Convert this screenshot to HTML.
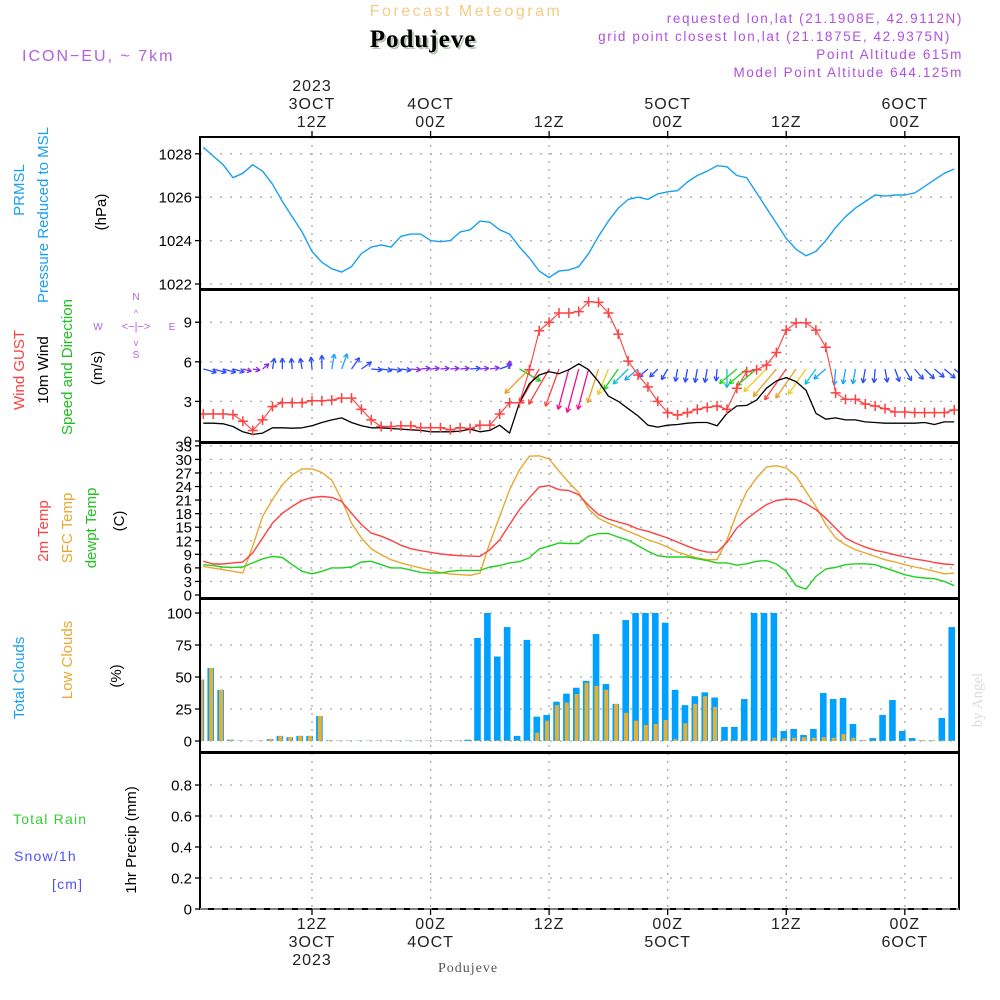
<!DOCTYPE html>
<html><head><meta charset="utf-8">
<style>
html,body{margin:0;padding:0;background:#fff;}
svg{display:block;font-family:"Liberation Sans",sans-serif;}
</style></head>
<body>
<svg id="chart" width="1000" height="1000" viewBox="0 0 1000 1000" xmlns="http://www.w3.org/2000/svg">
<rect x="0" y="0" width="1000" height="1000" fill="#fff"/>
<g id="grid"></g>
<g id="marks"></g>
<g id="axes"></g>

<text x="466" y="16" text-anchor="middle" font-size="16" fill="#f5cc85" letter-spacing="2.5">Forecast Meteogram</text>
<text x="425" y="49" text-anchor="middle" font-family="'Liberation Serif',serif" font-weight="bold" font-size="25" fill="#b8c8b8" letter-spacing="1">Podujeve</text>
<text x="423" y="47" text-anchor="middle" font-family="'Liberation Serif',serif" font-weight="bold" font-size="25" fill="#000" letter-spacing="1">Podujeve</text>
<text x="22" y="61" font-size="16" fill="#b060e0" letter-spacing="2">ICON−EU, ~ 7km</text>
<g font-size="13.5" fill="#b050e0" text-anchor="end" letter-spacing="1.6">
<text x="963" y="23">requested lon,lat (21.1908E, 42.9112N)</text>
<text x="951" y="41">grid point closest lon,lat (21.1875E, 42.9375N)</text>
<text x="963" y="59">Point Altitude 615m</text>
<text x="963" y="77">Model Point Altitude 644.125m</text>
</g>

<g font-size="15">
<text transform="translate(24,190) rotate(-90)" text-anchor="middle" fill="#1aa0f0">PRMSL</text>
<text transform="translate(48,215) rotate(-90)" text-anchor="middle" fill="#1aa0f0">Pressure Reduced to MSL</text>
<text transform="translate(106,212) rotate(-90)" text-anchor="middle" fill="#000">(hPa)</text>
<text transform="translate(24,370) rotate(-90)" text-anchor="middle" fill="#ff4040">Wind GUST</text>
<text transform="translate(48,370) rotate(-90)" text-anchor="middle" fill="#000">10m Wind</text>
<text transform="translate(72,367) rotate(-90)" text-anchor="middle" fill="#20c020">Speed and Direction</text>
<text transform="translate(102,368) rotate(-90)" text-anchor="middle" fill="#000">(m/s)</text>
<text transform="translate(48,531) rotate(-90)" text-anchor="middle" fill="#ff4040">2m Temp</text>
<text transform="translate(72,528) rotate(-90)" text-anchor="middle" fill="#e8a830">SFC Temp</text>
<text transform="translate(96,528) rotate(-90)" text-anchor="middle" fill="#20c020">dewpt Temp</text>
<text transform="translate(124,521) rotate(-90)" text-anchor="middle" fill="#000">(C)</text>
<text transform="translate(24,678) rotate(-90)" text-anchor="middle" fill="#1aa0f0">Total Clouds</text>
<text transform="translate(72,660) rotate(-90)" text-anchor="middle" fill="#e8a830">Low Clouds</text>
<text transform="translate(121,676) rotate(-90)" text-anchor="middle" fill="#000">(%)</text>
<text transform="translate(136,840) rotate(-90)" text-anchor="middle" fill="#000">1hr Precip (mm)</text>
</g>
<g font-size="14" letter-spacing="1.2">
<text x="13" y="824" fill="#30d030">Total  Rain</text>
<text x="14" y="861" fill="#5050ff">Snow/1h</text>
<text x="52" y="889" fill="#5050ff">[cm]</text>
</g>
<g font-size="10" fill="#b060e0" text-anchor="middle">
<text x="136" y="300">N</text><text x="98" y="330">W</text><text x="172" y="330">E</text><text x="136" y="358">S</text>
<text x="136" y="330" font-size="11">&lt;−|−&gt;</text>
<text x="136" y="316" font-size="9">^</text><text x="136" y="346" font-size="9">v</text>
</g>
<text transform="translate(982,700) rotate(-90)" text-anchor="middle" font-family="'Liberation Serif',serif" font-size="15" fill="#d8ddd8">by Angel</text>
<text x="468" y="972" text-anchor="middle" font-family="'Liberation Serif',serif" font-size="14" fill="#555" letter-spacing="1">Podujeve</text>

<script>
const hours = [];
for (let i = 1; i <= 77; i++) hours.push(i);
const pressure = [1028.3,1027.9,1027.5,1026.9,1027.1,1027.5,1027.2,1026.6,1025.8,1025.1,1024.4,1023.5,1023.0,1022.7,1022.55,1022.8,1023.4,1023.7,1023.8,1023.7,1024.2,1024.3,1024.3,1024.0,1023.95,1024.0,1024.4,1024.5,1024.9,1024.85,1024.5,1024.3,1023.7,1023.2,1022.6,1022.3,1022.6,1022.65,1022.8,1023.4,1024.2,1024.9,1025.5,1025.9,1026.0,1025.9,1026.15,1026.25,1026.3,1026.7,1027.0,1027.2,1027.45,1027.4,1027.0,1026.9,1026.2,1025.5,1024.8,1024.1,1023.6,1023.3,1023.5,1024.0,1024.6,1025.1,1025.5,1025.8,1026.1,1026.05,1026.1,1026.1,1026.2,1026.5,1026.8,1027.1,1027.3];
const gust = [2.05,2.05,2.05,2.0,1.5,0.8,1.6,2.6,2.9,2.9,2.9,3.05,3.05,3.1,3.25,3.25,2.4,1.6,1.1,1.1,1.15,1.15,1.0,1.0,1.0,0.85,1.0,0.95,1.2,1.2,2.05,2.9,2.9,5.4,8.35,9.0,9.7,9.7,9.8,10.55,10.5,9.7,8.1,6.05,5.0,4.1,3.0,2.15,1.97,2.15,2.4,2.55,2.65,2.4,4.0,5.25,5.4,5.75,6.7,8.4,8.95,8.95,8.4,7.1,3.65,3.15,3.15,2.8,2.65,2.45,2.2,2.2,2.15,2.15,2.15,2.15,2.35];
const windSpeed = [1.35,1.35,1.3,1.1,0.7,0.5,0.6,1.0,1.0,0.97,1.0,1.15,1.4,1.6,1.75,1.4,1.15,1.0,1.0,0.95,0.9,0.85,0.8,0.7,0.7,0.7,0.75,0.9,0.7,0.8,1.2,0.6,2.9,4.35,5.0,5.25,5.1,5.4,5.85,5.4,4.5,3.4,3.0,2.45,1.9,1.2,1.05,1.2,1.25,1.35,1.4,1.4,1.15,2.1,2.65,2.7,3.1,4.0,4.55,4.8,4.5,3.85,2.1,1.65,1.75,1.6,1.6,1.45,1.4,1.35,1.35,1.35,1.35,1.4,1.25,1.45,1.45];
const windDir = [-15,-15,-15,-15,-15,-10,40,80,90,95,100,95,90,80,70,55,35,-5,-8,-8,-8,-5,5,5,5,5,5,5,5,8,20,90,-30,-135,-120,-120,-110,-105,-105,-105,-108,-112,-125,-135,-140,-140,-135,-120,-100,-100,-100,-100,-95,-90,-140,-140,-140,-135,-130,-125,-125,-125,-125,-140,-95,-100,-100,-100,-95,-80,-70,-60,-50,-45,-40,-40,-40];
const temp2m = [7.45,6.85,6.85,7.1,7.3,9.3,12.6,15.9,18.1,19.6,20.9,21.6,21.8,21.6,20.7,18.1,15.6,13.7,13.0,12.1,11.0,10.25,9.8,9.45,9.1,8.85,8.7,8.6,8.55,10.0,12.2,15.6,18.9,21.5,23.9,24.2,23.3,23.1,22.2,19.8,17.8,16.8,16.15,15.55,14.6,14.1,13.35,12.6,11.7,10.8,10.0,9.5,9.45,11.65,14.8,16.8,18.5,20.0,20.9,21.2,21.1,20.2,18.9,17.0,14.8,12.6,11.5,10.6,9.9,9.45,8.9,8.4,7.95,7.6,7.2,6.85,6.7];
const tempSfc = [6.35,5.95,5.6,5.25,4.85,10.8,17.4,21.1,24.4,26.6,27.9,27.9,27.1,25.4,21.1,15.9,12.6,10.2,8.9,7.8,7.1,6.5,6.0,5.45,5.0,4.65,4.5,4.35,4.85,11.5,17.4,23.3,27.7,30.7,30.8,30.1,27.4,24.9,22.6,19.0,17.0,15.9,15.0,14.1,13.2,12.2,11.5,10.6,9.5,8.8,8.2,7.8,7.8,12.2,18.1,22.9,25.9,28.3,28.6,28.1,26.3,22.9,19.6,15.6,12.6,11.1,10.0,9.3,8.55,7.8,7.3,6.7,6.2,5.75,5.25,4.7,4.85];
const dewpt = [6.7,6.5,6.2,6.1,6.2,7.1,8.0,8.55,8.3,6.7,5.25,4.7,5.25,6.0,6.0,6.2,7.3,7.45,6.7,6.0,6.0,5.5,5.0,4.85,4.85,5.25,5.45,5.45,5.45,6.2,6.5,7.1,7.4,8.2,10.2,10.8,11.5,11.4,11.4,13.0,13.6,13.6,12.8,12.1,10.9,9.7,8.7,8.4,8.4,8.4,8.0,7.6,7.1,7.1,6.6,6.9,7.45,7.6,6.85,5.25,2.05,1.3,4.1,5.75,6.1,6.7,6.9,6.9,6.7,6.0,5.25,4.5,4.0,3.75,3.6,3.0,2.05];
const totalClouds = [48,57,40,1,0.3,0.3,0.3,1.5,4,3,4,4,19.5,0.5,0.3,0.3,0.3,0.3,0.3,0.3,0.3,0.3,0.3,0.3,0.3,0.3,0.3,1,80.5,100,66,89,4,79,19,20.3,30.7,37,41.6,47,83.6,44.5,29,94.5,100,100,100,92.4,40,28,35,38,34,11,11,32.8,100,100,100,7.8,9.4,4.7,9.4,37.5,32.8,33.6,13.3,0.5,2.3,20.3,32,7.8,2.3,0.5,0.5,18,89];
const lowClouds = [48,57,40,1,0.3,0.3,0.3,1.5,4,3,4,4,19.5,0.5,0.3,0.3,0.3,0.3,0.3,0.3,0.3,0.3,0.3,0.3,0.3,0.3,0.3,0.3,0.5,0.5,0.5,0.5,0.5,0.5,6.5,15.9,28,30,36.7,45.5,43,40,29,22,15.9,12.5,13.3,16.4,1.5,13.8,29,35,26.6,0.5,0.5,0.5,0.5,0.5,2.6,2,2.6,3,2.6,3,2.6,5.5,2.6,0.5,0.3,0.3,0.3,0.3,0.3,0.5,0.5,0.5,0.5];
const pressTicks = [1022,1024,1026,1028];
const windTicks = [0,3,6,9];
const tempTicks = [0,3,6,9,12,15,18,21,24,27,30,33];
const cloudTicks = [0,25,50,75,100];
const precipTicks = [0,0.2,0.4,0.6,0.8];
const precipTickLabels = ["0","0.2","0.4","0.6","0.8"];
const timeMarks = [12,24,36,48,60,72];
const topTimeLabels = [["2023","3OCT","12Z"],["4OCT","00Z"],["12Z"],["5OCT","00Z"],["12Z"],["6OCT","00Z"]];
const bottomTimeLabels = [["12Z","3OCT","2023"],["00Z","4OCT"],["12Z"],["00Z","5OCT"],["12Z"],["00Z","6OCT"]];

const L = 200, R = 959;
const xh = h => 312 + (h - 12) * 9.88;
const yP = p => 284 - (p - 1022) * 21.7;
const yW = v => 441 - v * 13.2;
const yT = t => 595 - t * 4.52;
const yC = c => 741 - c * 1.28;
const yR = r => 909 - r * 155;
const panels = [[137,289],[290,442],[443,598],[599,752],[753,909]];

const NS = "http://www.w3.org/2000/svg";
function mk(tag, parent, attrs) {
  const e = document.createElementNS(NS, tag);
  for (const k in attrs) e.setAttribute(k, attrs[k]);
  parent.appendChild(e);
  return e;
}
const grid = document.getElementById('grid');
const marks = document.getElementById('marks');
const axes = document.getElementById('axes');

const defs = mk('defs', document.getElementById('chart'), {});
const cp = mk('clipPath', defs, {id:'plotclip'});
mk('rect', cp, {x:L, y:130, width:R-L, height:790});
marks.setAttribute('clip-path','url(#plotclip)');

function hgrid(ticks, yf, name) {
  ticks.forEach(t => {
    const l = mk('line', grid, {x1:L, x2:R, y1:yf(t), y2:yf(t), stroke:'#aaa', 'stroke-width':1.3, 'stroke-dasharray':'2,8'});
    
    
  });
}
hgrid(pressTicks, yP, 'pressure');
hgrid(windTicks.slice(1), yW, 'wind');
hgrid(tempTicks.slice(1), yT, 'temp');
hgrid(cloudTicks, yC, 'cloud');
hgrid(precipTicks.slice(1), yR, 'precip');
timeMarks.forEach(h => {
  const l = mk('line', grid, {x1:xh(h), x2:xh(h), y1:137, y2:909, stroke:'#aaa', 'stroke-width':1.3, 'stroke-dasharray':'2,6'});
  
  
});

function polyline(vals, yf, color, w, name) {
  const pts = vals.map((v,i) => xh(hours[i]).toFixed(1) + ',' + yf(v).toFixed(1)).join(' ');
  const p = mk('polyline', marks, {points:pts, fill:'none', stroke:color, 'stroke-width':w, 'stroke-linejoin':'round'});
  
  
}
polyline(pressure, yP, '#1aa0f0', 1.4, 'pressure-line');

totalClouds.forEach((c,i) => {
  const x = xh(i + 0.75);
  const b = mk('rect', marks, {x:x-3.3, y:yC(c), width:6.6, height:741 - yC(c), fill:'#00a0ff'});
  
  
});
lowClouds.forEach((c,i) => {
  const x = xh(i + 0.75);
  const b = mk('rect', marks, {x:x-1.6, y:yC(c), width:4, height:741 - yC(c), fill:'#e8b030'});
  
  
});

function arrowColor(s) {
  if (s < 0.9) return '#8a2be2';
  if (s < 1.5) return '#2a4bff';
  if (s < 2.0) return '#1ea0ff';
  if (s < 2.6) return '#10c0d0';
  if (s < 3.3) return '#20d020';
  if (s < 4.2) return '#e8d020';
  if (s < 4.7) return '#e8a020';
  if (s < 5.3) return '#ff4040';
  return '#f0108a';
}
windDir.forEach((d,i) => {
  const s = windSpeed[i];
  const len = 4 + 7 * s;
  const a = d * Math.PI / 180;
  const x0 = xh(hours[i]), y0 = 369;
  const x1 = x0 + len * Math.cos(a), y1 = y0 - len * Math.sin(a);
  const col = arrowColor(s);
  const g = mk('g', marks, {stroke:col, 'stroke-width':1.3, fill:'none'});
  
  
  mk('line', g, {x1:x0, y1:y0, x2:x1, y2:y1});
  const hl = 5;
  [a + Math.PI - 0.5, a + Math.PI + 0.5].forEach(b => {
    mk('line', g, {x1:x1, y1:y1, x2:x1 + hl*Math.cos(b), y2:y1 - hl*Math.sin(b)});
  });
});

polyline(windSpeed, yW, '#000', 1.3, 'mean-wind-line');
polyline(gust, yW, '#ff4040', 1.1, 'gust-line');
gust.forEach((v,i) => {
  const x = xh(hours[i]), y = yW(v);
  const p = mk('path', marks, {d:`M${x-5},${y}H${x+5}M${x},${y-5}V${y+5}`, stroke:'#ff4040', 'stroke-width':1.5});
  
  
});

polyline(tempSfc, yT, '#e8a830', 1.4, 'sfc-temp-line');
polyline(temp2m, yT, '#ff4040', 1.4, 'temp-2m-line');
polyline(dewpt, yT, '#20d020', 1.4, 'dewpoint-line');

panels.forEach((p,i) => {
  const r = mk('rect', axes, {x:L, y:p[0], width:R-L, height:p[1]-p[0], fill:'none', stroke:'#000', 'stroke-width':2});
  
  
});
const bl = mk('line', axes, {x1:L, x2:R, y1:909, y2:909, stroke:'#fff', 'stroke-width':1, 'stroke-dasharray':'8,6'});



function yticks(ticks, labels, yf, name, fs) {
  ticks.forEach((t,i) => {
    mk('line', axes, {x1:195, x2:200, y1:yf(t), y2:yf(t), stroke:'#000', 'stroke-width':1.3});
    const tx = mk('text', axes, {x:192, y:yf(t)+5.5, 'text-anchor':'end', 'font-size':fs, fill:'#000'});
    
    
    tx.textContent = labels[i];
  });
}
yticks(pressTicks, pressTicks.map(String), yP, 'pressure', 15);
yticks(windTicks, windTicks.map(String), yW, 'wind', 15);
yticks(tempTicks, tempTicks.map(String), yT, 'temp', 15);
yticks(cloudTicks, cloudTicks.map(String), yC, 'cloud', 15);
yticks(precipTicks, precipTickLabels, yR, 'precip', 15);

timeMarks.forEach((h,i) => {
  const x = xh(h);
  mk('line', axes, {x1:x, x2:x, y1:131, y2:137, stroke:'#000', 'stroke-width':1.3});
  mk('line', axes, {x1:x, x2:x, y1:909, y2:915, stroke:'#000', 'stroke-width':1.3});
  const top = topTimeLabels[i];
  top.forEach((s,j) => {
    const y = 127 - (top.length - 1 - j) * 18;
    const t = mk('text', axes, {x:x, y:y, 'text-anchor':'middle', 'font-size':16, fill:'#222', 'letter-spacing':1});
    
    
    t.textContent = s;
  });
  bottomTimeLabels[i].forEach((s,j) => {
    const t = mk('text', axes, {x:x, y:929 + j*18, 'text-anchor':'middle', 'font-size':16, fill:'#222', 'letter-spacing':1});
    
    
    t.textContent = s;
  });
});
</script>
</svg>
</body></html>
